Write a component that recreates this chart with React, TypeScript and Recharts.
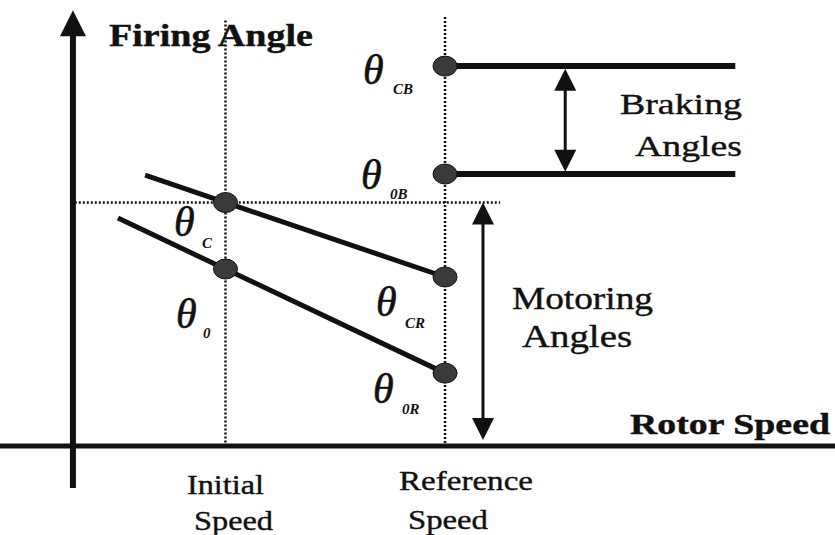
import React from 'react';
import { ComposedChart, Line, Scatter, XAxis, YAxis } from 'recharts';

const W = 835;
const H = 535;

// Axis ranges (speed in % of reference speed, angle in arbitrary units)
const speedRange = [-19.6, 204.8];
const angleRange = [-23.4, 117.4];

const initialSpeed = 41;
const referenceSpeed = 100;
const brakingEndSpeed = 178;

// Firing angles
const thetaCB = 100;
const theta0B = 71.6;
const thetaC = 64.1;
const theta0 = 46.6;
const thetaCR = 44.5;
const theta0R = 19.2;

// Series lines
const thetaCLine = [{ x: 19.4, y: 71.3 }, { x: referenceSpeed, y: thetaCR }];
const theta0Line = [{ x: 12.1, y: 60 }, { x: referenceSpeed, y: theta0R }];
const brakingCLine = [{ x: referenceSpeed, y: thetaCB }, { x: brakingEndSpeed, y: thetaCB }];
const braking0Line = [{ x: referenceSpeed, y: theta0B }, { x: brakingEndSpeed, y: theta0B }];

// Guides
const initialGuide = [{ x: initialSpeed, y: 112 }, { x: initialSpeed, y: 0 }];
const referenceGuide = [{ x: referenceSpeed, y: 112.9 }, { x: referenceSpeed, y: 0 }];
const thetaCGuide = [{ x: 0.5, y: thetaC }, { x: 114.8, y: thetaC }];

// Axes drawn as arrows
const xAxisLine = [{ x: -19.6, y: 0 }, { x: 204.8, y: 0 }];
const yAxisLine = [{ x: 0, y: -11 }, { x: 0, y: 109 }];

// Range arrows
const motoringSpeed = 110.2;
const motoringShaft = [{ x: motoringSpeed, y: 60 }, { x: motoringSpeed, y: 6 }];
const brakingSpeed = 132.3;
const brakingShaft = [{ x: brakingSpeed, y: 96 }, { x: brakingSpeed, y: 75 }];

const arrowHeads = [
  { x: 0, y: 114.7, dir: 'up', size: 26 },
  { x: motoringSpeed, y: thetaC, dir: 'up', size: 22 },
  { x: motoringSpeed, y: 1.6, dir: 'down', size: 22 },
  { x: brakingSpeed, y: 99.3, dir: 'up', size: 22 },
  { x: brakingSpeed, y: 72.2, dir: 'down', size: 22 },
];

const markers = [
  { x: initialSpeed, y: thetaC },
  { x: initialSpeed, y: theta0 },
  { x: referenceSpeed, y: thetaCB },
  { x: referenceSpeed, y: theta0B },
  { x: referenceSpeed, y: thetaCR },
  { x: referenceSpeed, y: theta0R },
];

const speedLabels = [['Initial', 'Speed'], ['Reference', 'Speed']];

const INK = '#111';
const FAMILY = 'Liberation Serif';

const ArrowHead = (props: any) => {
  const { cx, cy, payload } = props;
  if (cx == null || cy == null) return null;
  const s = payload.size;
  const h = s / 2;
  const d = payload.dir === 'up'
    ? `M${cx},${cy} L${cx - h},${cy + s} L${cx + h},${cy + s} Z`
    : `M${cx},${cy} L${cx - h},${cy - s} L${cx + h},${cy - s} Z`;
  return <path d={d} fill={INK} />;
};

const Marker = (props: any) => {
  const { cx, cy } = props;
  if (cx == null || cy == null) return null;
  return <ellipse cx={cx} cy={cy} rx={12} ry={10} fill="#3a3a3a" stroke="#111" strokeWidth={1} />;
};

const Theta = ({ x, y, sub, subX, subY }: any) => (
  <g>
    <text x={x} y={y} fontSize={42} fill={INK} stroke={INK} strokeWidth={0.6}
      style={{ fontFamily: FAMILY, fontStyle: 'italic' }}>θ</text>
    <text x={subX} y={subY} fontSize={15} fill={INK}
      style={{ fontFamily: FAMILY, fontStyle: 'italic', fontWeight: 'bold' }}>{sub}</text>
  </g>
);

const line = (data: any[], width: number, dash?: string, key?: string) => (
  <Line
    key={key}
    data={data}
    dataKey="y"
    stroke={INK}
    strokeWidth={width}
    strokeDasharray={dash}
    dot={false}
    activeDot={false}
    isAnimationActive={false}
    strokeLinecap="butt"
  />
);

const Label = ({ x, y, size, len, bold, children }: any) => (
  <text x={x} y={y} fontSize={size} fill={INK} stroke={INK} strokeWidth={0.4}
    textLength={len} lengthAdjust="spacingAndGlyphs"
    style={{ fontFamily: FAMILY, fontWeight: bold ? 'bold' : 'normal' }}>{children}</text>
);

export default function App() {
  return (
    <div style={{ position: 'absolute', left: 0, top: 0, width: W, height: H, background: '#fff' }}>
      <ComposedChart width={W} height={H} margin={{ top: 0, right: 0, bottom: 0, left: 0 }}>
        <XAxis type="number" dataKey="x" domain={speedRange} hide allowDataOverflow />
        <YAxis type="number" dataKey="y" domain={angleRange} hide allowDataOverflow />
        {line(initialGuide, 2.5, '2 2', 'g1')}
        {line(referenceGuide, 2.5, '2 2', 'g2')}
        {line(thetaCGuide, 2.5, '2 2', 'g3')}
        {line(xAxisLine, 5, undefined, 'ax')}
        {line(yAxisLine, 6, undefined, 'ay')}
        {line(thetaCLine, 5, undefined, 'l1')}
        {line(theta0Line, 5, undefined, 'l2')}
        {line(brakingCLine, 6, undefined, 'b1')}
        {line(braking0Line, 6, undefined, 'b2')}
        {line(motoringShaft, 3, undefined, 'm')}
        {line(brakingShaft, 3, undefined, 'bs')}
        <Scatter data={arrowHeads} dataKey="y" shape={ArrowHead} isAnimationActive={false} />
        <Scatter data={markers} dataKey="y" shape={Marker} isAnimationActive={false} />
        <g>
          <Label x={109} y={46} size={32} len={204} bold>Firing Angle</Label>
          <Label x={630} y={434} size={30} len={200} bold>Rotor Speed</Label>
          <Label x={620} y={114} size={30} len={122}>Braking</Label>
          <Label x={635} y={156} size={30} len={107}>Angles</Label>
          <Label x={512} y={309} size={31} len={141}>Motoring</Label>
          <Label x={522} y={347} size={31} len={110}>Angles</Label>
          <Label x={187} y={494} size={28} len={77}>{speedLabels[0][0]}</Label>
          <Label x={194} y={530} size={28} len={79}>{speedLabels[0][1]}</Label>
          <Label x={399} y={490} size={28} len={134}>{speedLabels[1][0]}</Label>
          <Label x={408} y={529} size={28} len={80}>{speedLabels[1][1]}</Label>
          <Theta x={363} y={84} sub="CB" subX={393} subY={94} />
          <Theta x={361} y={189} sub="0B" subX={390} subY={199} />
          <Theta x={174} y={236} sub="C" subX={202} subY={248} />
          <Theta x={176} y={328} sub="0" subX={203} subY={338} />
          <Theta x={376} y={316} sub="CR" subX={405} subY={328} />
          <Theta x={373} y={403} sub="0R" subX={402} subY={414} />
        </g>
      </ComposedChart>
    </div>
  );
}
